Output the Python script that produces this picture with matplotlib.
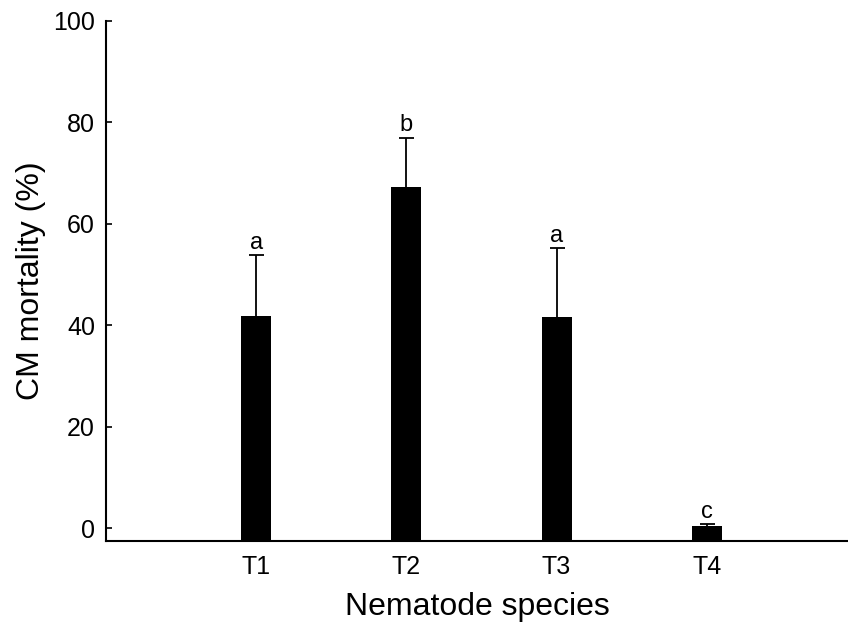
import matplotlib
matplotlib.use("Agg")
import matplotlib.pyplot as plt
import numpy as np

plt.rcParams['font.family'] = ['Liberation Sans', 'DejaVu Sans']

categories = ["T1", "T2", "T3", "T4"]
mortality = [41.8, 67.2, 41.6, 0.4]
errors = [12.0, 9.8, 13.6, 0.5]
letters = ["a", "b", "a", "c"]
yticks = [0, 20, 40, 60, 80, 100]

fig = plt.figure(figsize=(8.48, 6.3), dpi=100)
ax = fig.add_axes([0.125, 0.141, 0.875, 0.826])

x = np.arange(len(categories))
ybottom = -2.5
heights = [m - ybottom for m in mortality]
ax.bar(x, heights, width=0.2, bottom=ybottom, color="black", zorder=2)
eb = ax.errorbar(x, mortality, yerr=[np.zeros(len(errors)), errors], fmt="none",
                 ecolor="black", elinewidth=1.3, capsize=5.4, capthick=1.3, zorder=1)
# hide lower caps (zero-length lower errors)
eb[1][0].set_visible(False)
for xi, m, e, l in zip(x, mortality, errors, letters):
    ax.annotate(l, (xi, m + e), xytext=(0, 1.0), textcoords="offset points",
                ha="center", va="bottom", fontsize=17)

ax.set_xlim(-1.0, 3.94)
ax.set_ylim(ybottom, 100)
ax.set_xticks(x)
ax.set_xticklabels(categories)
ax.set_yticks(yticks)
ax.tick_params(axis="x", length=0, labelsize=18, pad=10)
ax.tick_params(axis="y", direction="in", length=4, width=1.2, labelsize=18, pad=8)
for s in ["top", "right"]:
    ax.spines[s].set_visible(False)
for s in ["left", "bottom"]:
    ax.spines[s].set_linewidth(1.5)
ax.set_xlabel("Nematode species", fontsize=23, labelpad=9)
ax.set_ylabel("CM mortality (%)", fontsize=23, labelpad=5)

fig.savefig("out.png", dpi=100)
